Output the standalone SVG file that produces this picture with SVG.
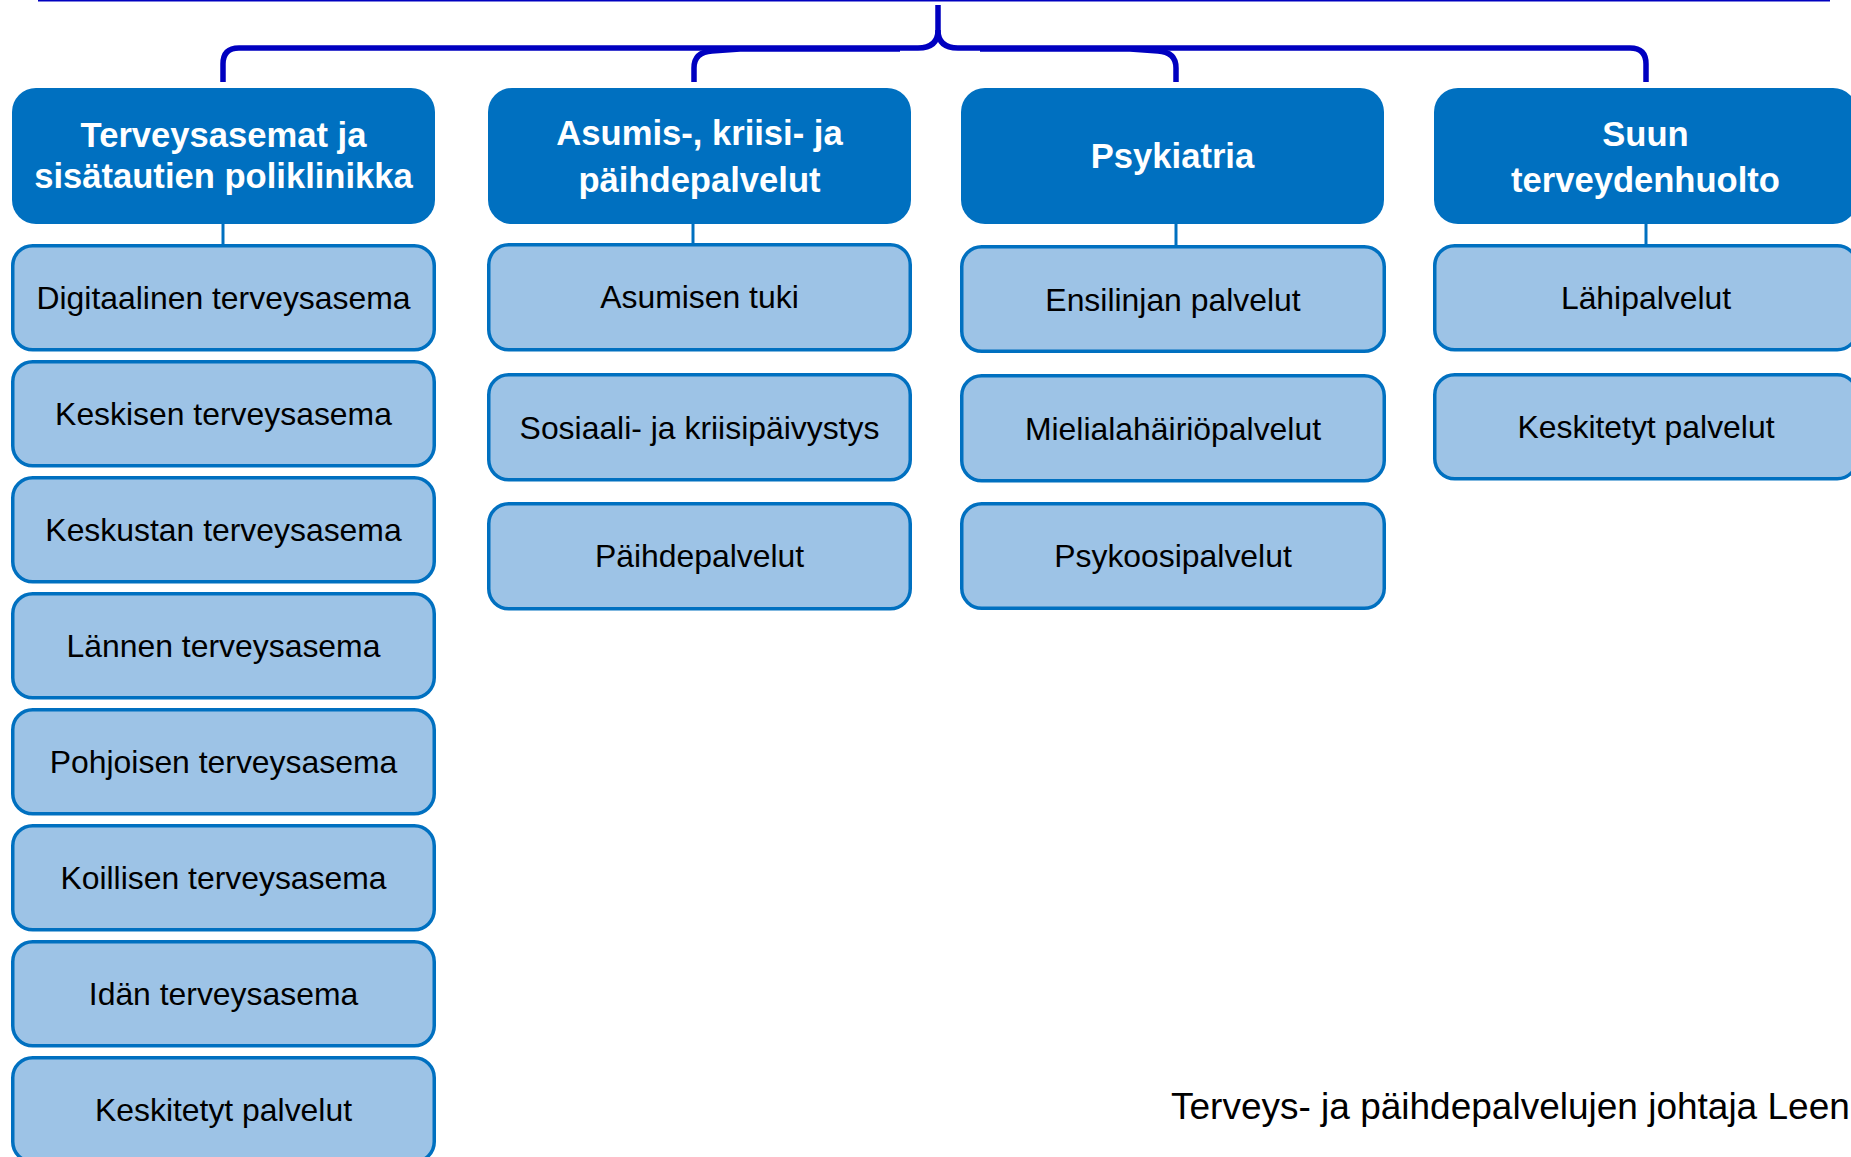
<svg xmlns="http://www.w3.org/2000/svg" width="1851" height="1157" viewBox="0 0 1851 1157">
<style>
.hdr{fill:#0070C0}
.sub{fill:#9DC3E6;stroke:#0070C0;stroke-width:3.5}
.ht{font-family:"Liberation Sans",Arial,sans-serif;font-weight:bold;font-size:34.6px;fill:#FFFFFF;text-anchor:middle}
.st{font-family:"Liberation Sans",Arial,sans-serif;font-size:31.9px;fill:#000000;text-anchor:middle}
.br{fill:none;stroke:#0000C0;stroke-width:5.5}
.cn{fill:none;stroke:#0070C0;stroke-width:3}
</style>
<rect width="1851" height="1157" fill="#FFFFFF"/>
<g id="connectors">
<line x1="38" y1="0" x2="1830" y2="0" stroke="#0000C0" stroke-width="3"/>
<path class="br" d="M223 82 V64 Q223 48 239 48 H918 Q938 48 938 30 V5"/>
<path class="br" d="M938 30 Q938 48 958 48 H1630 Q1646 48 1646 64 V82"/>
<path class="br" d="M694 82 V68 Q694 52 712 51 L740 49 H900"/>
<path class="br" d="M1176 82 V68 Q1176 52 1158 51 L1130 49 H980"/>
<line class="cn" x1="223" y1="224" x2="223" y2="245"/>
<line class="cn" x1="693" y1="224" x2="693" y2="244"/>
<line class="cn" x1="1176" y1="224" x2="1176" y2="246"/>
<line class="cn" x1="1646" y1="224" x2="1646" y2="245"/>
</g>
<g id="h1"><rect class="hdr" x="12" y="88" width="423" height="136" rx="24"/><text class="ht" x="223.5" y="147">Terveysasemat ja</text><text class="ht" x="223.5" y="188">sisätautien poliklinikka</text></g>
<g id="h2"><rect class="hdr" x="488" y="88" width="423" height="136" rx="24"/><text class="ht" x="699.5" y="145">Asumis-, kriisi- ja</text><text class="ht" x="699.5" y="192">päihdepalvelut</text></g>
<g id="h3"><rect class="hdr" x="961" y="88" width="423" height="136" rx="24"/><text class="ht" x="1172.5" y="168">Psykiatria</text></g>
<g id="h4"><rect class="hdr" x="1434" y="88" width="423" height="136" rx="24"/><text class="ht" x="1645.5" y="146">Suun</text><text class="ht" x="1645.5" y="192">terveydenhuolto</text></g>

<g id="c1s1"><rect class="sub" x="12.75" y="245.75" width="421.5" height="104" rx="20"/><text class="st" x="223.5" y="308.5">Digitaalinen terveysasema</text></g>
<g id="c1s2"><rect class="sub" x="12.75" y="361.75" width="421.5" height="104" rx="20"/><text class="st" x="223.5" y="424.5">Keskisen terveysasema</text></g>
<g id="c1s3"><rect class="sub" x="12.75" y="477.75" width="421.5" height="104" rx="20"/><text class="st" x="223.5" y="540.5">Keskustan terveysasema</text></g>
<g id="c1s4"><rect class="sub" x="12.75" y="593.75" width="421.5" height="104" rx="20"/><text class="st" x="223.5" y="656.5">Lännen terveysasema</text></g>
<g id="c1s5"><rect class="sub" x="12.75" y="709.75" width="421.5" height="104" rx="20"/><text class="st" x="223.5" y="772.5">Pohjoisen terveysasema</text></g>
<g id="c1s6"><rect class="sub" x="12.75" y="825.75" width="421.5" height="104" rx="20"/><text class="st" x="223.5" y="888.5">Koillisen terveysasema</text></g>
<g id="c1s7"><rect class="sub" x="12.75" y="941.75" width="421.5" height="104" rx="20"/><text class="st" x="223.5" y="1004.5">Idän terveysasema</text></g>
<g id="c1s8"><rect class="sub" x="12.75" y="1057.75" width="421.5" height="104" rx="20"/><text class="st" x="223.5" y="1120.5">Keskitetyt palvelut</text></g>

<g id="c2s1"><rect class="sub" x="488.75" y="244.75" width="421.5" height="105" rx="20"/><text class="st" x="699.5" y="308">Asumisen tuki</text></g>
<g id="c2s2"><rect class="sub" x="488.75" y="374.75" width="421.5" height="105" rx="20"/><text class="st" x="699.5" y="439">Sosiaali- ja kriisipäivystys</text></g>
<g id="c2s3"><rect class="sub" x="488.75" y="503.75" width="421.5" height="105" rx="20"/><text class="st" x="699.5" y="567">Päihdepalvelut</text></g>

<g id="c3s1"><rect class="sub" x="961.75" y="246.75" width="422.5" height="104.5" rx="20"/><text class="st" x="1173" y="311">Ensilinjan palvelut</text></g>
<g id="c3s2"><rect class="sub" x="961.75" y="375.75" width="422.5" height="105" rx="20"/><text class="st" x="1173" y="440">Mielialahäiriöpalvelut</text></g>
<g id="c3s3"><rect class="sub" x="961.75" y="503.75" width="422.5" height="104.5" rx="20"/><text class="st" x="1173" y="567">Psykoosipalvelut</text></g>

<g id="c4s1"><rect class="sub" x="1434.75" y="245.75" width="422.5" height="104" rx="20"/><text class="st" x="1646" y="309">Lähipalvelut</text></g>
<g id="c4s2"><rect class="sub" x="1434.75" y="374.75" width="422.5" height="104" rx="20"/><text class="st" x="1646" y="438">Keskitetyt palvelut</text></g>

<text x="1171" y="1119" font-family="'Liberation Sans',Arial,sans-serif" font-size="37" fill="#000000">Terveys- ja päihdepalvelujen johtaja Leen</text>
</svg>
